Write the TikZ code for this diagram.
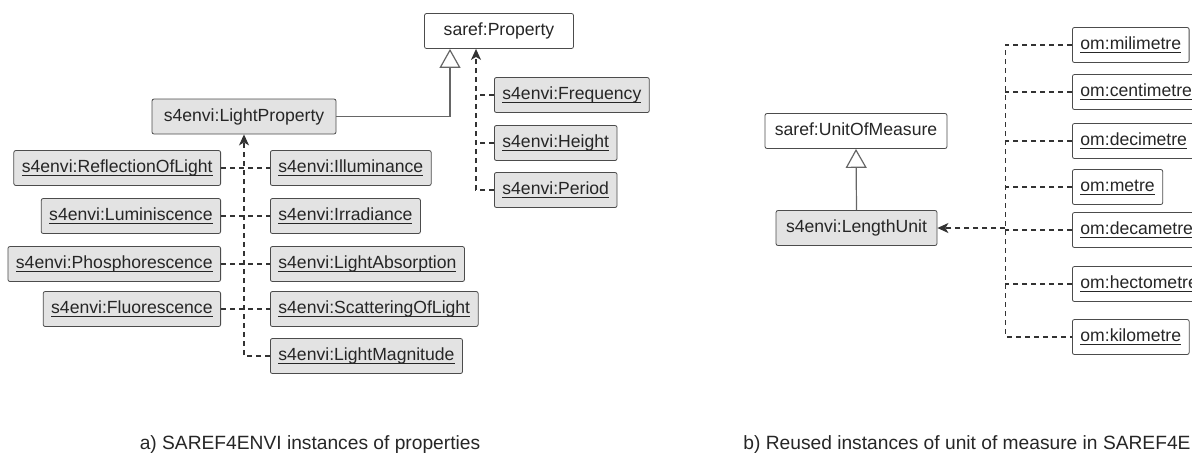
\documentclass[tikz,border=0pt]{standalone}
\usepackage{fontspec}
\setmainfont{Liberation Sans}
\usetikzlibrary{arrows.meta}
\newcommand{\inst}[1]{\underline{\smash{#1}}}

\begin{document}
\begin{tikzpicture}[x=0.5pt,y=-0.5pt] % ontology instances
\tikzstyle{cls} = [draw=black!70, fill=white, rounded corners=1pt, minimum height=17.5pt, text height=6.6pt, text depth=1.9pt, inner xsep=4pt, font=\fontsize{8.8}{10}\selectfont, text=black!85] % class box
\tikzstyle{grey} = [cls, fill=black!11] % grey box
\tikzstyle{isa} = [draw=black!60, line width=0.6pt, -{Triangle[open,length=9.5pt,width=10.5pt,fill=white]}] % subclass
\tikzstyle{dep} = [draw=black!80, line width=0.6pt, dash pattern=on 2.5pt off 2pt, -{Stealth[length=5.5pt,width=5pt,inset=1.5pt]}] % instance of
\tikzstyle{dsh} = [draw=black!80, line width=0.6pt, dash pattern=on 2.5pt off 2pt] % dashed branch
\tikzstyle{captext} = [font=\fontsize{9.6}{11}\selectfont, text=black!85, inner sep=0pt] % caption

\useasboundingbox (0,0) rectangle (1192,452);
\clip (0,0) rectangle (1192,452);

% a) properties
\node[cls, minimum width=74.5pt] (prop) at (499,31) {saref:Property};
\node[grey, minimum width=92pt] (lp) at (244,116.5) {s4envi:LightProperty};
\node[grey, anchor=west] (freq) at (494,95) {\inst{s4envi:Frequency}};
\node[grey, anchor=west] (hgt) at (494,143) {\inst{s4envi:Height}};
\node[grey, anchor=west] (per) at (494,190) {\inst{s4envi:Period}};

\node[grey, anchor=east] (refl) at (221,168) {\inst{s4envi:ReflectionOfLight}};
\node[grey, anchor=east] (lum) at (221,216) {\inst{s4envi:Luminiscence}};
\node[grey, anchor=east] (phos) at (221,264) {\inst{s4envi:Phosphorescence}};
\node[grey, anchor=east] (fluo) at (221,309) {\inst{s4envi:Fluorescence}};

\node[grey, anchor=west] (illum) at (270,168) {\inst{s4envi:Illuminance}};
\node[grey, anchor=west] (irr) at (270,216) {\inst{s4envi:Irradiance}};
\node[grey, anchor=west] (abs) at (270,264) {\inst{s4envi:LightAbsorption}};
\node[grey, anchor=west] (scat) at (270,309) {\inst{s4envi:ScatteringOfLight}};
\node[grey, anchor=west] (mag) at (270,356) {\inst{s4envi:LightMagnitude}};

\draw[isa] (lp.east) -| ([xshift=-24.5pt]prop.south);
\draw[dep] (per.west) -| ([xshift=-11.5pt]prop.south);
\draw[dsh] (freq.west) -- +(-9pt,0);
\draw[dsh] (hgt.west) -- +(-9pt,0);

\draw[dep] (mag.west) -| (lp.south);
\foreach \l/\r in {refl/illum, lum/irr, phos/abs, fluo/scat}
    \draw[dsh] (\l.east) -- (\r.west);

% b) units of measure
\node[cls, minimum width=91pt] (uom) at (856,131) {saref:UnitOfMeasure};
\node[grey, minimum width=80.5pt] (lu) at (856.5,228) {s4envi:LengthUnit};
\draw[isa] (lu.north) -- (uom.south);

\node[cls, anchor=west] (mm) at (1072,45) {\inst{om:milimetre}};
\node[cls, anchor=west] (cm) at (1072,92) {\inst{om:centimetre}};
\node[cls, anchor=west] (dm) at (1072,141) {\inst{om:decimetre}};
\node[cls, anchor=west] (m) at (1072,187) {\inst{om:metre}};
\node[cls, anchor=west] (dam) at (1072,230) {\inst{om:decametre}};
\node[cls, anchor=west] (hm) at (1072,284) {\inst{om:hectometre}};
\node[cls, anchor=west] (km) at (1072,337) {\inst{om:kilometre}};

\coordinate (hub) at ([xshift=34pt]lu.east);
\draw[dep] (hub) -- (lu.east);
\draw[dsh] (mm.west) -| (hub) |- (km.west);
\foreach \n in {cm,dm,m,dam,hm}
    \draw[dsh] (\n.west) -- (\n.west -| hub);

% captions
\node[captext, anchor=base] (capa) at (310,449) {a) SAREF4ENVI instances of properties};
\node[captext, anchor=base west] (capb) at (743,449) {b) Reused instances of unit of measure in SAREF4ENVI};
\end{tikzpicture}
\end{document}
